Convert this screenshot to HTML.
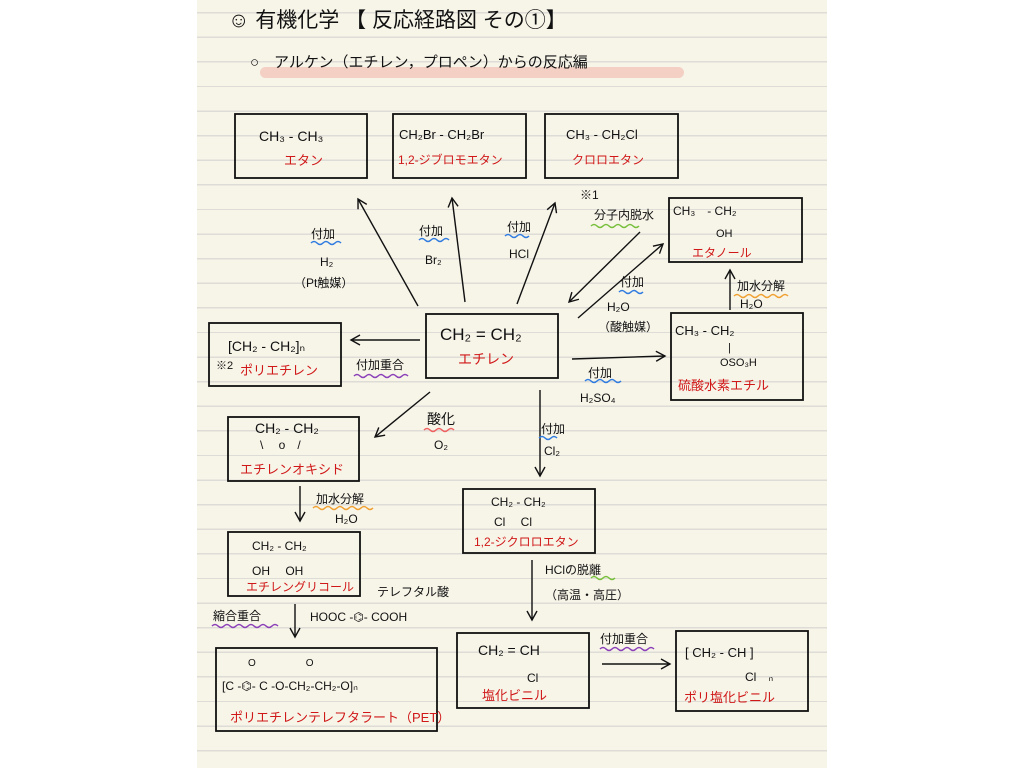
<!DOCTYPE html>
<html><head><meta charset="utf-8"><style>
html,body{margin:0;padding:0;background:#fff;}
body{width:1024px;height:768px;overflow:hidden;position:relative;font-family:"Liberation Sans","Noto Sans CJK JP",sans-serif;}
.paper{position:absolute;left:197px;top:0;width:630px;height:768px;background-color:#f7f4e8;
background-image:repeating-linear-gradient(to bottom,transparent 0,transparent 12px,#dddcd6 12px,#dddcd6 13.4px,transparent 13.4px,transparent 24.6px);}
svg{position:absolute;left:0;top:0}
text{font-family:"Liberation Sans","Noto Sans CJK JP",sans-serif;}
</style></head><body>
<div class="paper"></div>
<svg width="1024" height="768" viewBox="0 0 1024 768">
<defs>
<marker id="a" markerWidth="12" markerHeight="12" refX="10" refY="6" orient="auto" markerUnits="userSpaceOnUse">
<polyline points="1,1 10,6 1,11" fill="none" stroke="#111" stroke-width="1.4"/></marker>
</defs>
<rect x="260" y="67" width="424" height="11" rx="5.5" fill="#f4cfc4"/>
<g fill="#111">
<text x="228" y="27" font-size="21">☺ 有機化学 【 反応経路図 その①】</text>
<text x="250" y="67" font-size="15">○　アルケン（エチレン，プロペン）からの反応編</text>
</g>
<g fill="none" stroke="#111" stroke-width="1.8">
<rect x="235" y="114" width="132" height="64"/>
<rect x="393" y="114" width="133" height="64"/>
<rect x="545" y="114" width="133" height="64"/>
<rect x="669" y="198" width="133" height="64"/>
<rect x="209" y="323" width="132" height="63"/>
<rect x="426" y="314" width="132" height="64"/>
<rect x="671" y="313" width="132" height="87"/>
<rect x="228" y="417" width="131" height="64"/>
<rect x="463" y="489" width="132" height="64"/>
<rect x="228" y="532" width="132" height="64"/>
<rect x="216" y="648" width="221" height="83"/>
<rect x="457" y="633" width="132" height="75"/>
<rect x="676" y="631" width="132" height="80"/>
</g>
<g stroke="#111" stroke-width="1.4" fill="none" marker-end="url(#a)">
<line x1="418" y1="306" x2="358" y2="199"/>
<line x1="465" y1="302" x2="452" y2="198"/>
<line x1="517" y1="304" x2="555" y2="203"/>
<line x1="640" y1="232" x2="569" y2="302"/>
<line x1="578" y1="318" x2="663" y2="244"/>
<line x1="420" y1="340" x2="351" y2="340"/>
<line x1="572" y1="359" x2="665" y2="356"/>
<line x1="730" y1="310" x2="730" y2="270"/>
<line x1="430" y1="392" x2="375" y2="437"/>
<line x1="540" y1="390" x2="540" y2="476"/>
<line x1="300" y1="486" x2="300" y2="521"/>
<line x1="295" y1="604" x2="295" y2="637"/>
<line x1="532" y1="560" x2="532" y2="620"/>
<line x1="602" y1="664" x2="670" y2="664"/>
</g>
<g fill="#111" font-size="14">
<text x="259" y="141">CH₃ - CH₃</text>
<text x="399" y="139" font-size="13">CH₂Br - CH₂Br</text>
<text x="566" y="139" font-size="13">CH₃ - CH₂Cl</text>
<text x="673" y="215" font-size="12">CH₃　- CH₂</text>
<text x="716" y="237" font-size="11">OH</text>
<text x="228" y="351">[CH₂ - CH₂]ₙ</text>
<text x="216" y="369" font-size="11">※2</text>
<text x="440" y="340" font-size="17">CH₂ = CH₂</text>
<text x="675" y="335" font-size="13">CH₃ - CH₂</text>
<text x="728" y="351" font-size="11">|</text>
<text x="720" y="366" font-size="11">OSO₃H</text>
<text x="255" y="433">CH₂ - CH₂</text>
<text x="260" y="449" font-size="12">\　 o　/</text>
<text x="491" y="506" font-size="12">CH₂ - CH₂</text>
<text x="494" y="526" font-size="12">Cl　 Cl</text>
<text x="252" y="550" font-size="12">CH₂ - CH₂</text>
<text x="252" y="575" font-size="12">OH　 OH</text>
<text x="478" y="655" font-size="14">CH₂ = CH</text>
<text x="527" y="682" font-size="12">Cl</text>
<text x="685" y="657" font-size="13">[ CH₂ - CH ]</text>
<text x="745" y="681" font-size="12">Cl　ₙ</text>
<text x="222" y="690" font-size="12">[C -⌬- C -O-CH₂-CH₂-O]ₙ</text>
<text x="248" y="666" font-size="10">O　　　　　O</text>
<text x="310" y="621" font-size="12">HOOC -⌬- COOH</text>
<text x="377" y="596" font-size="12">テレフタル酸</text>
</g>
<g fill="#d01818" font-size="13">
<text x="284" y="165">エタン</text>
<text x="398" y="164" font-size="12">1,2-ジブロモエタン</text>
<text x="572" y="164" font-size="12">クロロエタン</text>
<text x="692" y="257" font-size="12">エタノール</text>
<text x="240" y="375">ポリエチレン</text>
<text x="458" y="364" font-size="14">エチレン</text>
<text x="678" y="390">硫酸水素エチル</text>
<text x="240" y="474">エチレンオキシド</text>
<text x="474" y="546" font-size="12">1,2-ジクロロエタン</text>
<text x="246" y="591" font-size="12">エチレングリコール</text>
<text x="230" y="722">ポリエチレンテレフタラート（PET）</text>
<text x="482" y="700">塩化ビニル</text>
<text x="684" y="702">ポリ塩化ビニル</text>
</g>
<g fill="#111" font-size="12">
<text x="311" y="238">付加</text><text x="320" y="266">H₂</text><text x="294" y="287">（Pt触媒）</text>
<text x="419" y="235">付加</text><text x="425" y="264">Br₂</text>
<text x="507" y="231">付加</text><text x="509" y="258">HCl</text>
<text x="580" y="199">※1</text><text x="594" y="219">分子内脱水</text>
<text x="620" y="286">付加</text><text x="607" y="311">H₂O</text><text x="598" y="331">（酸触媒）</text>
<text x="737" y="290">加水分解</text><text x="740" y="308">H₂O</text>
<text x="356" y="369">付加重合</text>
<text x="588" y="377">付加</text><text x="580" y="402">H₂SO₄</text>
<text x="427" y="424" font-size="14">酸化</text><text x="434" y="449">O₂</text>
<text x="541" y="433">付加</text><text x="544" y="455">Cl₂</text>
<text x="316" y="503">加水分解</text><text x="335" y="523">H₂O</text>
<text x="213" y="620">縮合重合</text>
<text x="545" y="574">HClの脱離</text><text x="545" y="599">（高温・高圧）</text>
<text x="600" y="643">付加重合</text>
</g>
<g fill="none" stroke-width="1.5">
<path stroke="#2f7be0" d="M311 243 q3 -3 6 0 t6 0 t6 0 t6 0 t6 0"/>
<path stroke="#2f7be0" d="M419 240 q3 -3 6 0 t6 0 t6 0 t6 0 t6 0"/>
<path stroke="#2f7be0" d="M505 236 q3 -3 6 0 t6 0 t6 0 t6 0"/>
<path stroke="#78c03c" d="M591 226 q3 -3 6 0 t6 0 t6 0 t6 0 t6 0 t6 0 t6 0 t6 0"/>
<path stroke="#2f7be0" d="M619 292 q3 -3 6 0 t6 0 t6 0 t6 0"/>
<path stroke="#f0a030" d="M734 296 q3 -3 6 0 t6 0 t6 0 t6 0 t6 0 t6 0 t6 0 t6 0 t6 0"/>
<path stroke="#8a3fb8" d="M354 376 q3 -3 6 0 t6 0 t6 0 t6 0 t6 0 t6 0 t6 0 t6 0 t6 0"/>
<path stroke="#2f7be0" d="M585 381 q3 -3 6 0 t6 0 t6 0 t6 0 t6 0 t6 0"/>
<path stroke="#f06060" d="M424 430 q3 -3 6 0 t6 0 t6 0 t6 0 t6 0"/>
<path stroke="#2f7be0" d="M539 438 q3 -3 6 0 t6 0 t6 0"/>
<path stroke="#f0a030" d="M313 508 q3 -3 6 0 t6 0 t6 0 t6 0 t6 0 t6 0 t6 0 t6 0 t6 0 t6 0"/>
<path stroke="#8a3fb8" d="M212 626 q3 -3 6 0 t6 0 t6 0 t6 0 t6 0 t6 0 t6 0 t6 0 t6 0 t6 0 t6 0"/>
<path stroke="#78c03c" d="M591 578 q3 -3 6 0 t6 0 t6 0 t6 0"/>
<path stroke="#8a3fb8" d="M600 649 q3 -3 6 0 t6 0 t6 0 t6 0 t6 0 t6 0 t6 0 t6 0 t6 0"/>
</g>
</svg>
</body></html>
